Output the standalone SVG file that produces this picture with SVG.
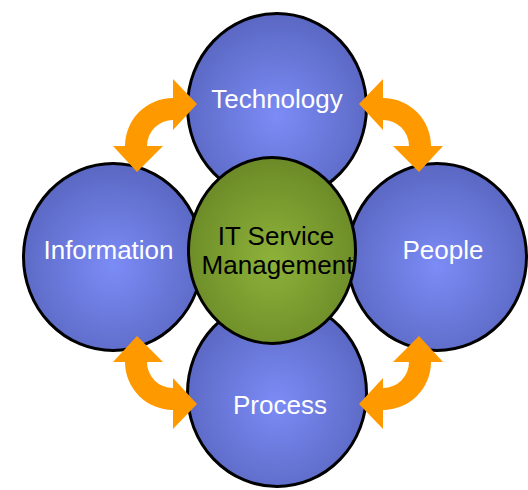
<svg xmlns="http://www.w3.org/2000/svg" xmlns:xlink="http://www.w3.org/1999/xlink" width="528" height="490" viewBox="0 0 528 490">
  <defs>
    <radialGradient id="blueGrad" cx="0.5" cy="0.55" r="0.55">
      <stop offset="0" stop-color="#7C8CF6"/>
      <stop offset="1" stop-color="#5A67C2"/>
    </radialGradient>
    <radialGradient id="greenGrad" cx="0.5" cy="0.55" r="0.55">
      <stop offset="0" stop-color="#8DB23A"/>
      <stop offset="1" stop-color="#6B8A27"/>
    </radialGradient>
    <path id="arrow" d="M197,104 L173,79 L173,98 A48,48 0 0 0 125,146 L113,146 L137,172 L163,146 L147,146 A26,26 0 0 1 173,120 L173,130 Z"/>
  </defs>
  <style>
    .blue { fill: url(#blueGrad); stroke: #000; stroke-width: 3; }
    .green { fill: url(#greenGrad); stroke: #000; stroke-width: 3; }
    .lbl { font-family: "Liberation Sans", Arial, sans-serif; font-size: 26px; text-anchor: middle; }
    .white { fill: #FFFFFF; }
    .dark { fill: #000000; }
    .arr { fill: #FF9900; }
  </style>
  <g id="technology">
    <ellipse class="blue" cx="277" cy="107" rx="89.5" ry="93.5"/>
    <text class="lbl white" x="277" y="108">Technology</text>
  </g>
  <g id="information">
    <ellipse class="blue" cx="113" cy="257" rx="89.5" ry="93.5"/>
    <text class="lbl white" x="108.5" y="259">Information</text>
  </g>
  <g id="people">
    <ellipse class="blue" cx="437" cy="257" rx="89.5" ry="93.5"/>
    <text class="lbl white" x="443" y="259">People</text>
  </g>
  <g id="process">
    <ellipse class="blue" cx="277" cy="393" rx="89.5" ry="93.5"/>
    <text class="lbl white" x="280" y="414">Process</text>
  </g>
  <g id="itsm">
    <ellipse class="green" cx="272" cy="250.5" rx="83.5" ry="93"/>
    <text class="lbl dark" x="276" y="245">IT Service</text>
    <text class="lbl dark" x="277.5" y="274">Management</text>
  </g>
  <g id="connectors">
    <use class="arr" xlink:href="#arrow" href="#arrow"/>
    <use class="arr" xlink:href="#arrow" href="#arrow" transform="matrix(-1 0 0 1 556 0)"/>
    <use class="arr" xlink:href="#arrow" href="#arrow" transform="matrix(1 0 0 -1 0 508)"/>
    <use class="arr" xlink:href="#arrow" href="#arrow" transform="matrix(-1 0 0 -1 556 508)"/>
  </g>
</svg>
